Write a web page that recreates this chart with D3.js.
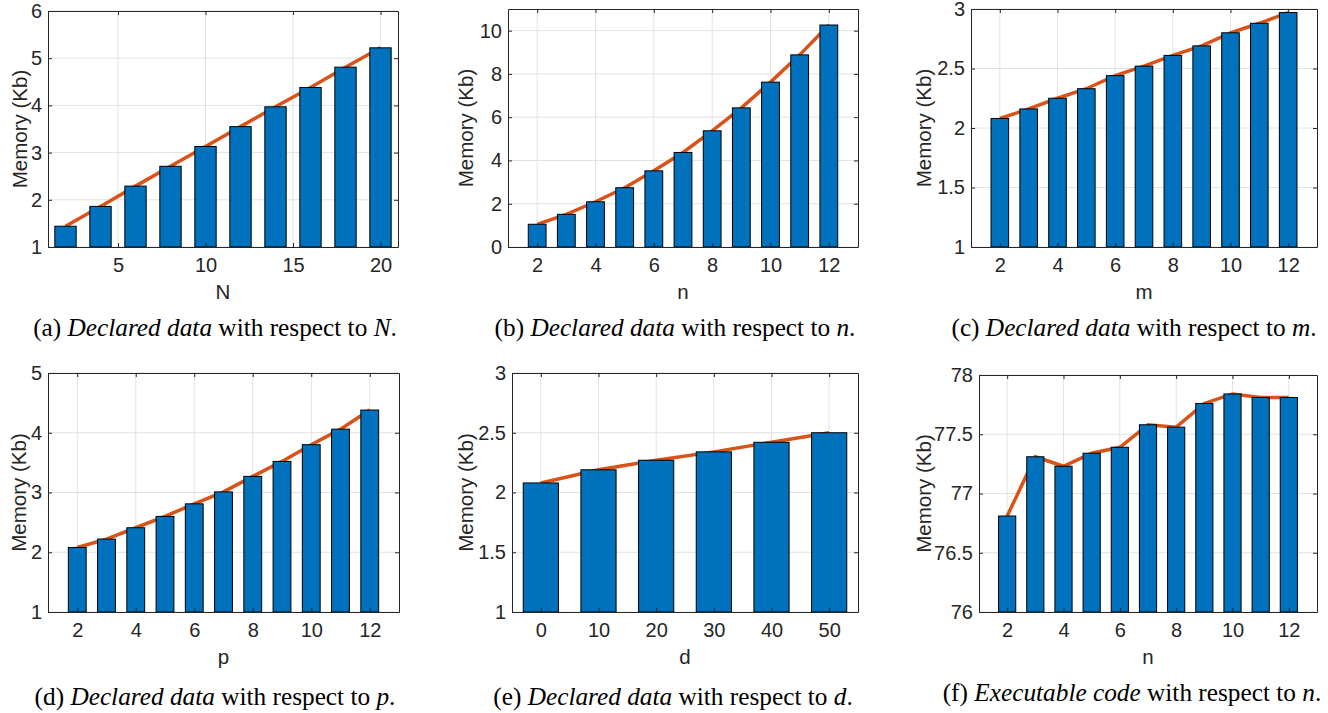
<!DOCTYPE html>
<html>
<head>
<meta charset="utf-8">
<script src="https://cdn.jsdelivr.net/npm/d3@7"></script>
<style>
  body { margin: 0; background: #fff; }
  svg { display: block; }
  .tick text { font-family: "Liberation Sans", Arial, Helvetica, sans-serif; font-size: 20px; fill: #262626; }
  .axis path, .axis line { stroke: #262626; }
  .label { font-family: "Liberation Sans", Arial, Helvetica, sans-serif; font-size: 20.5px; fill: #262626; }
  .caption { font-family: "Liberation Serif", "Times New Roman", serif; font-size: 25.3px; fill: #000; }
</style>
</head>
<body>
<script>
// Data
const xN = [2, 4, 6, 8, 10, 12, 14, 16, 18, 20];
const memByN = [1.44, 1.86, 2.29, 2.71, 3.13, 3.55, 3.97, 4.38, 4.81, 5.22];

const xSmall = [2, 3, 4, 5, 6, 7, 8, 9, 10, 11, 12];
const memByn = [1.05, 1.51, 2.09, 2.74, 3.52, 4.37, 5.37, 6.43, 7.62, 8.88, 10.26];
const memBym = [2.08, 2.16, 2.25, 2.33, 2.44, 2.52, 2.61, 2.69, 2.8, 2.88, 2.97];
const memByp = [2.08, 2.22, 2.41, 2.6, 2.81, 3.01, 3.27, 3.52, 3.8, 4.06, 4.38];

const xD = [0, 10, 20, 30, 40, 50];
const memByd = [2.08, 2.19, 2.27, 2.34, 2.42, 2.5];

const execByn = [76.81, 77.31, 77.23, 77.34, 77.39, 77.58, 77.56, 77.76, 77.84, 77.81, 77.81];

// Tick labels
const ticksX_N = [5, 10, 15, 20];
const ticksX_small = [2, 4, 6, 8, 10, 12];
const ticksX_d = [0, 10, 20, 30, 40, 50];
const ticksY_a = [1, 2, 3, 4, 5, 6];
const ticksY_b = [0, 2, 4, 6, 8, 10];
const ticksY_half13 = [1, 1.5, 2, 2.5, 3];
const ticksY_d = [1, 2, 3, 4, 5];
const ticksY_f = [76, 76.5, 77, 77.5, 78];

// Panel layout
const panels = [
  { id: "a", xs: xN, values: memByN, xDomain: [1, 21], yDomain: [1, 6], xTicks: ticksX_N, yTicks: ticksY_a,
    left: 48, right: 398, top: 11, bottom: 247, ylabelX: 27, xlabel: "N", cx: 215, cy: 336, sym: "N", word: "Declared data" },
  { id: "b", xs: xSmall, values: memByn, xDomain: [1, 13], yDomain: [0, 11], xTicks: ticksX_small, yTicks: ticksY_b,
    left: 508, right: 858, top: 9, bottom: 247, ylabelX: 473, xlabel: "n", cx: 675, cy: 336, sym: "n", word: "Declared data" },
  { id: "c", xs: xSmall, values: memBym, xDomain: [1, 13], yDomain: [1, 3], xTicks: ticksX_small, yTicks: ticksY_half13,
    left: 971, right: 1317, top: 9, bottom: 247, ylabelX: 931, xlabel: "m", cx: 1134, cy: 336, sym: "m", word: "Declared data" },
  { id: "d", xs: xSmall, values: memByp, xDomain: [1, 13], yDomain: [1, 5], xTicks: ticksX_small, yTicks: ticksY_d,
    left: 48, right: 399, top: 373, bottom: 612, ylabelX: 26, xlabel: "p", cx: 215, cy: 705, sym: "p", word: "Declared data" },
  { id: "e", xs: xD, values: memByd, xDomain: [-5, 55], yDomain: [1, 3], xTicks: ticksX_d, yTicks: ticksY_half13,
    left: 512, right: 858, top: 373, bottom: 612, ylabelX: 473, xlabel: "d", cx: 673, cy: 705, sym: "d", word: "Declared data" },
  { id: "f", xs: xSmall, values: execByn, xDomain: [1, 13], yDomain: [76, 78], xTicks: ticksX_small, yTicks: ticksY_f,
    left: 979, right: 1317, top: 375, bottom: 612, ylabelX: 931, xlabel: "n", cx: 1132, cy: 701, sym: "n", word: "Executable code" },
];

const svg = d3.select("body").append("svg").attr("width", 1328).attr("height", 713);

const drawPanel = (p) => {
  const x = d3.scaleLinear().domain(p.xDomain).range([p.left, p.right]);
  const y = d3.scaleLinear().domain(p.yDomain).range([p.bottom, p.top]);
  const g = svg.append("g").attr("class", "panel-" + p.id);

  // Grid
  g.selectAll(".grid-x").data(p.xTicks).join("line")
    .attr("class", "grid-x")
    .attr("x1", (d) => x(d)).attr("x2", (d) => x(d))
    .attr("y1", p.top).attr("y2", p.bottom)
    .attr("stroke", "#e2e2e2");
  g.selectAll(".grid-y").data(p.yTicks).join("line")
    .attr("class", "grid-y")
    .attr("y1", (d) => y(d)).attr("y2", (d) => y(d))
    .attr("x1", p.left).attr("x2", p.right)
    .attr("stroke", "#e2e2e2");

  // Line (behind the bars)
  const line = d3.line().x((d, i) => x(p.xs[i])).y((d) => y(d));
  g.append("path").datum(p.values)
    .attr("d", line)
    .attr("fill", "none")
    .attr("stroke", "#D95319")
    .attr("stroke-width", 3.5);

  // Bars
  const step = x(p.xs[1]) - x(p.xs[0]);
  const bw = step * 0.61;
  g.selectAll(".bar").data(p.values).join("rect")
    .attr("class", "bar")
    .attr("x", (d, i) => x(p.xs[i]) - bw / 2)
    .attr("y", (d) => y(d))
    .attr("width", bw)
    .attr("height", (d) => y(p.yDomain[0]) - y(d))
    .attr("fill", "#0072BD")
    .attr("stroke", "#000")
    .attr("stroke-width", 1);

  // Axes, ticks pointing inward
  const fmt = (d) => String(d);
  g.append("g").attr("class", "axis")
    .attr("transform", `translate(0,${p.bottom})`)
    .call(d3.axisBottom(x).tickValues(p.xTicks).tickFormat(fmt).tickSizeInner(-4).tickSizeOuter(0).tickPadding(11));
  g.append("g").attr("class", "axis")
    .attr("transform", `translate(0,${p.top})`)
    .call(d3.axisTop(x).tickValues(p.xTicks).tickFormat("").tickSizeInner(-4).tickSizeOuter(0));
  g.append("g").attr("class", "axis")
    .attr("transform", `translate(${p.left},0)`)
    .call(d3.axisLeft(y).tickValues(p.yTicks).tickFormat(fmt).tickSizeInner(-4).tickSizeOuter(0).tickPadding(6));
  g.append("g").attr("class", "axis")
    .attr("transform", `translate(${p.right},0)`)
    .call(d3.axisRight(y).tickValues(p.yTicks).tickFormat("").tickSizeInner(-4).tickSizeOuter(0));
  g.selectAll(".axis .domain").attr("stroke-width", 1);
  g.selectAll(".axis text").attr("font-family", null).attr("font-size", null);

  // Axis labels
  g.append("text").attr("class", "label")
    .attr("x", (p.left + p.right) / 2).attr("y", p.bottom + 52)
    .attr("text-anchor", "middle")
    .text(p.xlabel);
  g.append("text").attr("class", "label")
    .attr("transform", `translate(${p.ylabelX},${(p.top + p.bottom) / 2}) rotate(-90)`)
    .attr("text-anchor", "middle")
    .text("Memory (Kb)");

  // Caption
  const cap = g.append("text").attr("class", "caption")
    .attr("x", p.cx).attr("y", p.cy).attr("text-anchor", "middle");
  cap.append("tspan").text(`(${p.id}) `);
  cap.append("tspan").attr("font-style", "italic").text(p.word);
  cap.append("tspan").text(" with respect to ");
  cap.append("tspan").attr("font-style", "italic").text(p.sym);
  cap.append("tspan").text(".");
};

panels.forEach(drawPanel);
</script>
</body>
</html>
